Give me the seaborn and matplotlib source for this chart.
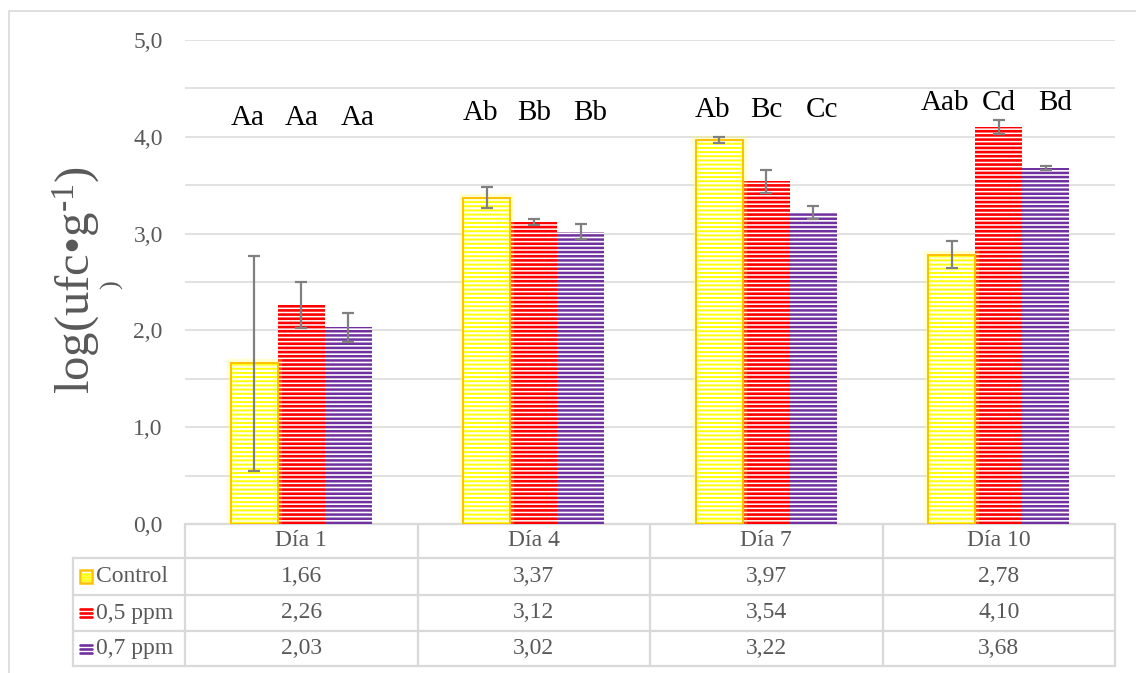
import numpy as np
import pandas as pd
import matplotlib
matplotlib.use("Agg")
import matplotlib.pyplot as plt
import matplotlib.patheffects as pe
from matplotlib.patches import Rectangle
from matplotlib.lines import Line2D
from matplotlib.transforms import blended_transform_factory, offset_copy
from matplotlib.ticker import MultipleLocator, FuncFormatter
import seaborn as sns

# ---- data -------------------------------------------------------------
days = ["Día 1", "Día 4", "Día 7", "Día 10"]
treatments = ["Control", "0,5 ppm", "0,7 ppm"]
control = [1.66, 3.37, 3.97, 2.78]
ppm05 = [2.26, 3.12, 3.54, 4.10]
ppm07 = [2.03, 3.02, 3.22, 3.68]
control_err = [1.11, 0.11, 0.03, 0.14]
ppm05_err = [0.24, 0.03, 0.12, 0.07]
ppm07_err = [0.15, 0.08, 0.07, 0.02]
control_letters = ["Aa", "Ab", "Ab", "Aab"]
ppm05_letters = ["Aa", "Bb", "Bc", "Cd"]
ppm07_letters = ["Aa", "Bb", "Cc", "Bd"]
letter_height = [4.19, 4.25, 4.28, 4.35]

means = [control, ppm05, ppm07]
errs = [control_err, ppm05_err, ppm07_err]
letters = [control_letters, ppm05_letters, ppm07_letters]

colors = {"Control": "#FFFF00", "0,5 ppm": "#FF0000", "0,7 ppm": "#7030A0"}
control_edge = "#FFC000"
hatch_lw = {"Control": 1.4, "0,5 ppm": 1.9, "0,7 ppm": 1.8}
letter_shift_pt = [-4.5, 0, 6.5]
grey_text = "#595959"
grid_col = "#D9D9D9"

df = pd.DataFrame({
    "day": np.repeat([days], 3, axis=0).ravel(),
    "treatment": np.repeat(treatments, len(days)),
    "value": np.concatenate(means),
})

# ---- style ------------------------------------------------------------
sns.set_style("white")
plt.rcParams["font.family"] = ["Liberation Serif", "DejaVu Serif"]
plt.rcParams["mathtext.fontset"] = "custom"
plt.rcParams["mathtext.rm"] = "Liberation Serif"
plt.rcParams["mathtext.it"] = "Liberation Serif:italic"
plt.rcParams["mathtext.bf"] = "Liberation Serif:bold"
plt.rcParams["hatch.linewidth"] = 1.8

W, H = 1136, 673
fig = plt.figure(figsize=(W / 100, H / 100), dpi=100)
fig.patch.set_facecolor("white")

ax = fig.add_axes([185 / W, 1 - 524 / H, 930 / W, 484 / H])

sns.barplot(data=df, x="day", y="value", hue="treatment",
            order=days, hue_order=treatments, palette=colors,
            width=0.607, gap=0, errorbar=None, legend=False, ax=ax)

ax.set_ylim(0, 5)
ax.set_xlim(-0.5, len(days) - 0.5)

# striped bar fills, outline, error bars and significance letters
for j, (name, cont) in enumerate(zip(treatments, ax.containers)):
    xs = []
    for p in cont.patches:
        p.set_facecolor("white")
        p.set_edgecolor(colors[name])
        p.set_linewidth(0)
        p.set_hatch("----")
        if hasattr(p, "set_hatch_linewidth"):
            p.set_hatch_linewidth(hatch_lw[name])
        p.set_zorder(2)
        xs.append(p.get_x() + p.get_width() / 2)
        if name == "Control":
            outline = Rectangle((p.get_x(), 0), p.get_width(), p.get_height(),
                                fill=False, edgecolor=control_edge, lw=1.2, zorder=3)
            outline.set_path_effects([
                pe.withStroke(linewidth=6, foreground=(1, 1, 0.3, 0.25)),
                pe.Normal()])
            ax.add_patch(outline)
    ax.errorbar(xs, means[j], yerr=errs[j], fmt="none", ecolor="#808080",
                elinewidth=1.6, capsize=4.5, capthick=1.6, zorder=4)
    shifted = offset_copy(ax.transData, fig=fig, x=letter_shift_pt[j], y=0, units="points")
    for x, txt, yh in zip(xs, letters[j], letter_height):
        ax.text(x, yh, txt, transform=shifted, ha="center", va="center",
                fontsize=21, color="black")

# axes look
for s in ax.spines.values():
    s.set_visible(False)
ax.yaxis.set_major_locator(MultipleLocator(1))
ax.yaxis.set_minor_locator(MultipleLocator(0.5))
ax.yaxis.set_major_formatter(FuncFormatter(lambda v, _: f"{v:.1f}".replace(".", ",")))
ax.grid(True, axis="y", which="both", color=grid_col, lw=1.1, zorder=0)
ax.set_axisbelow(True)
ax.tick_params(axis="y", which="both", length=0, pad=16, labelsize=17, labelcolor=grey_text)
ax.tick_params(axis="x", length=0, labelbottom=False)
ax.set_xlabel("")
ax.set_ylabel("")
ax.axhline(0, color="#BFBFBF", lw=1.2, zorder=1)

# y title (wrapped as in the workbook)
fig.text(76 / W, 1 - 280 / H, r"log(ufc•g$^{\text{-1}}$)", rotation=90, ha="center",
         va="center", fontsize=35, color=grey_text)
fig.text(112 / W, 1 - 285 / H, ")", rotation=90, ha="center", va="center",
         fontsize=19, color=grey_text)

# ---- data table beneath the plot --------------------------------------
tr_x = blended_transform_factory(ax.transData, fig.transFigure)
tr_ax = blended_transform_factory(ax.transAxes, fig.transFigure)
row_edges = [1 - y / H for y in (524, 558, 595, 631, 666)]
legend_left = (73 - 185) / 930
line_kw = dict(color=grid_col, lw=1.6, clip_on=False, zorder=1)

# horizontal rules
ax.add_line(Line2D([0, 1], [row_edges[0]] * 2, transform=tr_ax, **line_kw))
for yy in row_edges[1:]:
    ax.add_line(Line2D([legend_left, 1], [yy] * 2, transform=tr_ax, **line_kw))
# vertical rules at category boundaries
for i in range(len(days) + 1):
    ax.add_line(Line2D([i - 0.5] * 2, [row_edges[0], row_edges[-1]], transform=tr_x, **line_kw))
ax.add_line(Line2D([legend_left] * 2, [row_edges[1], row_edges[-1]], transform=tr_ax, **line_kw))

centers = [(row_edges[k] + row_edges[k + 1]) / 2 for k in range(4)]
for i, d in enumerate(days):
    ax.text(i, centers[0], d, transform=tr_x, ha="center", va="center",
            fontsize=17, color=grey_text, clip_on=False)
    for j in range(len(treatments)):
        ax.text(i, centers[j + 1], f"{means[j][i]:.2f}".replace(".", ","), transform=tr_x,
                ha="center", va="center", fontsize=17, color=grey_text, clip_on=False)

# legend keys in the first column
key_x0 = (80 - 185) / 930
key_w = 12 / 930
key_h = 13 / H
for j, name in enumerate(treatments):
    cy = centers[j + 1]
    if name == "Control":
        key = Rectangle((key_x0, cy - key_h / 2), key_w, key_h, transform=tr_ax,
                        facecolor="white", edgecolor=control_edge, lw=1.8,
                        clip_on=False, zorder=3)
        ax.add_patch(key)
        for dy in (-3, 0, 3):
            ax.add_line(Line2D([key_x0 + 2 / 930, key_x0 + key_w - 2 / 930],
                               [cy + dy / H] * 2, transform=tr_ax,
                               color=colors[name], lw=1.8, clip_on=False, zorder=4))
    else:
        for dy in (-4, 0, 4):
            ax.add_line(Line2D([key_x0, key_x0 + key_w], [cy + dy / H] * 2,
                               transform=tr_ax, color=colors[name], lw=1.9,
                               clip_on=False, zorder=4))
    ax.text(key_x0 + key_w + 4 / 930, cy, name, transform=tr_ax, ha="left",
            va="center", fontsize=17, color=grey_text, clip_on=False)

# chart frame
fig.add_artist(Rectangle((9 / W, -0.05), 1.2, (H - 11) / H + 0.05,
                         transform=fig.transFigure, fill=False,
                         edgecolor=grid_col, lw=1.2))

fig.savefig("out.png", dpi=100)
